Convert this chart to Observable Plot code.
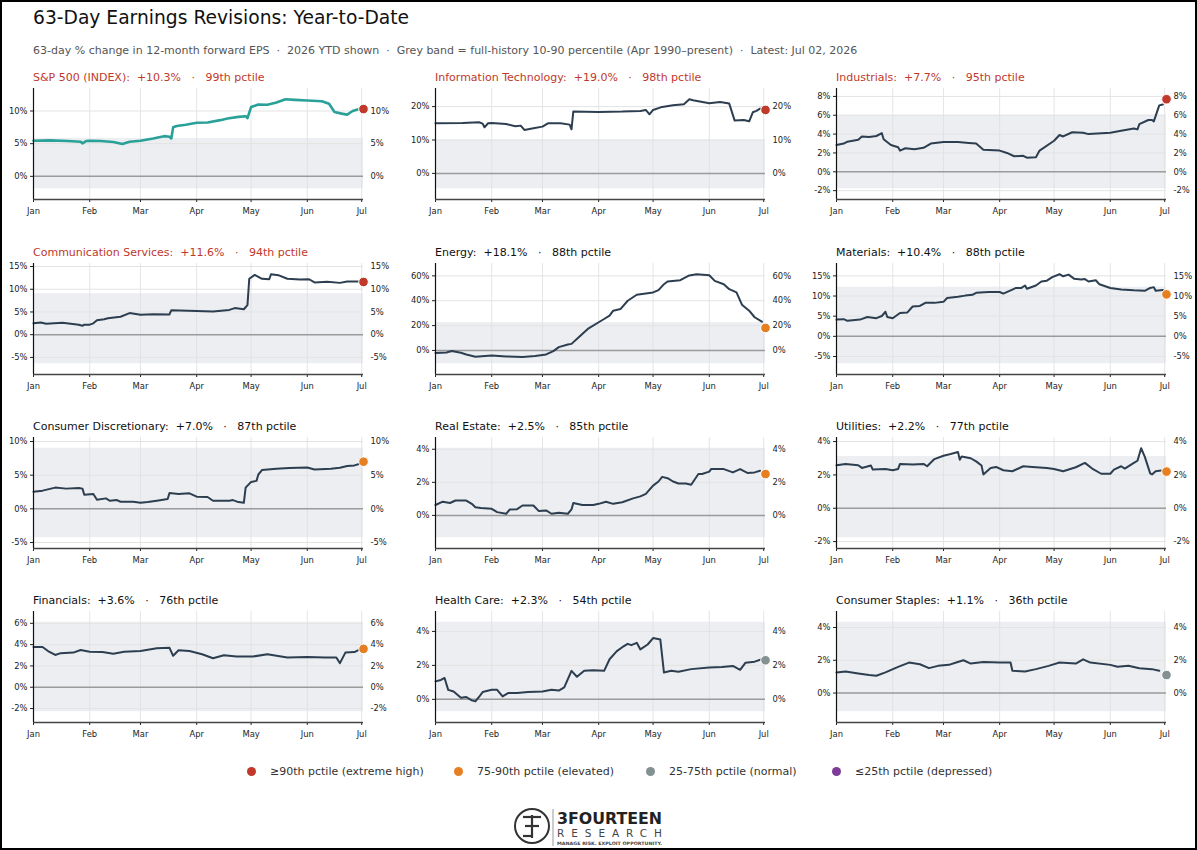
<!DOCTYPE html>
<html><head><meta charset="utf-8">
<script src="https://cdn.jsdelivr.net/npm/d3@7"></script>
<script src="https://cdn.jsdelivr.net/npm/@observablehq/plot@0.6"></script>
<style>
body{margin:0;background:#fff;font-family:"DejaVu Sans",sans-serif;}
#page{position:relative;width:1197px;height:850px;overflow:hidden;background:#fff;}
.abs{position:absolute;white-space:pre;line-height:1;}
#frame{position:absolute;left:0;top:0;width:1197px;height:850px;box-sizing:border-box;border:2px solid #000;pointer-events:none;}
</style></head><body><div id="page"></div><script>
// ---------- data ----------
const spx = [["01-01",5.45],["01-10",5.5],["01-20",5.4],["01-27",5.3],["01-28",5.05],["01-30",5.4],["02-01",5.45],["02-07",5.4],["02-14",5.25],["02-19",4.95],["02-23",5.3],["03-01",5.45],["03-08",5.8],["03-14",6.15],["03-17",6.05],["03-18",5.8],["03-19",7.5],["03-21",7.7],["03-26",7.9],["04-01",8.2],["04-07",8.25],["04-14",8.6],["04-18",8.85],["04-24",9.1],["04-28",9.2],["04-29",8.9],["05-01",10.6],["05-05",11.0],["05-10",10.95],["05-15",11.3],["05-20",11.8],["05-25",11.7],["06-01",11.6],["06-09",11.5],["06-13",11.1],["06-16",9.85],["06-20",9.6],["06-23",9.45],["06-26",10.0],["06-30",10.35]];
const infoTech = [["01-01",15.0],["01-16",15.1],["01-25",15.3],["01-27",14.9],["01-28",13.8],["01-30",15.0],["02-01",15.1],["02-09",14.8],["02-14",14.1],["02-17",14.3],["02-19",13.0],["02-24",13.5],["03-01",14.0],["03-04",15.0],["03-11",15.0],["03-16",14.6],["03-17",13.2],["03-18",18.5],["04-01",18.4],["04-14",18.5],["04-24",18.7],["04-27",19.0],["04-29",17.7],["05-01",19.0],["05-06",19.9],["05-12",20.4],["05-18",20.7],["05-21",22.2],["05-23",21.9],["06-01",21.0],["06-07",21.4],["06-12",20.9],["06-15",15.8],["06-20",16.0],["06-23",15.6],["06-25",18.3],["06-27",18.7],["06-29",19.4]];
const industrials = [["01-01",2.85],["01-05",3.0],["01-07",3.2],["01-13",3.4],["01-15",3.75],["01-19",3.7],["01-23",3.8],["01-26",4.1],["01-27",3.45],["01-31",2.85],["02-04",2.6],["02-05",2.25],["02-08",2.5],["02-13",2.4],["02-18",2.55],["02-22",3.0],["03-01",3.15],["03-09",3.15],["03-15",3.05],["03-19",3.0],["03-23",2.35],["04-01",2.25],["04-05",2.0],["04-09",1.65],["04-14",1.7],["04-16",1.5],["04-21",1.55],["04-23",2.25],["05-01",3.3],["05-04",3.9],["05-06",3.75],["05-11",4.2],["05-17",4.15],["05-20",4.0],["06-01",4.15],["06-07",4.35],["06-14",4.6],["06-16",4.5],["06-17",5.05],["06-22",5.5],["06-24",5.5],["06-25",5.35],["06-28",7.05],["06-30",7.15]];
const commServices = [["01-01",2.5],["01-05",2.7],["01-08",2.4],["01-17",2.65],["01-26",2.2],["01-28",1.95],["01-29",2.2],["02-01",2.2],["02-03",2.5],["02-05",3.2],["02-09",3.4],["02-11",3.6],["02-18",3.95],["02-23",4.75],["03-01",4.4],["03-08",4.5],["03-17",4.45],["03-18",5.4],["04-01",5.2],["04-10",5.1],["04-19",5.45],["04-22",5.85],["04-27",5.6],["04-29",6.5],["04-30",12.3],["05-03",13.15],["05-07",12.3],["05-11",12.2],["05-12",13.3],["05-16",13.1],["05-21",12.3],["05-28",12.15],["06-02",12.2],["06-05",11.5],["06-12",11.65],["06-19",11.4],["06-23",11.7],["06-30",11.7]];
const energy = [["01-01",-2.1],["01-07",-1.6],["01-10",-0.5],["01-15",-1.9],["01-18",-3.2],["01-23",-5.1],["02-01",-4.0],["02-09",-4.8],["02-18",-5.3],["02-25",-4.5],["03-03",-3.2],["03-07",-0.5],["03-10",2.7],["03-15",4.8],["03-17",5.3],["03-21",10.7],["03-24",14.7],["03-26",17.3],["04-01",22.7],["04-04",25.3],["04-07",28.0],["04-09",32.0],["04-13",33.3],["04-17",40.0],["04-22",44.8],["05-01",46.7],["05-04",48.5],["05-07",53.3],["05-09",55.5],["05-16",56.5],["05-21",60.3],["05-25",61.3],["06-01",60.5],["06-04",56.0],["06-09",53.3],["06-12",49.3],["06-16",46.7],["06-19",36.8],["06-23",32.0],["06-26",26.7],["06-30",23.2]];
const materials = [["01-01",4.15],["01-05",4.25],["01-07",3.85],["01-14",4.15],["01-18",4.8],["01-23",4.5],["01-26",5.05],["01-28",6.1],["01-29",4.8],["02-01",4.5],["02-05",5.8],["02-09",5.9],["02-12",7.4],["02-16",7.55],["02-19",8.3],["02-24",8.3],["03-01",8.55],["03-03",9.5],["03-09",9.8],["03-13",10.1],["03-17",10.3],["03-19",10.8],["03-26",11.0],["04-01",11.0],["04-03",10.6],["04-08",11.6],["04-10",12.0],["04-13",12.0],["04-15",12.6],["04-16",11.8],["04-21",12.6],["04-24",13.6],["04-27",13.8],["04-30",14.7],["05-04",15.4],["05-06",14.9],["05-09",15.3],["05-12",14.3],["05-16",14.1],["05-18",14.2],["05-20",13.6],["05-24",13.9],["05-26",12.9],["06-01",12.0],["06-07",11.6],["06-14",11.4],["06-20",11.3],["06-23",12.0],["06-25",12.2],["06-26",11.3],["06-30",11.5]];
const consDisc = [["01-01",2.55],["01-06",2.7],["01-13",3.15],["01-19",3.0],["01-26",3.1],["01-28",3.0],["01-29",2.1],["02-03",2.2],["02-05",1.35],["02-10",1.55],["02-12",1.2],["02-16",1.3],["02-18",1.05],["02-25",1.05],["03-01",0.9],["03-05",1.0],["03-10",1.2],["03-16",1.45],["03-17",2.35],["03-22",2.2],["03-28",2.3],["04-01",1.8],["04-07",1.75],["04-10",1.2],["04-19",1.2],["04-21",1.3],["04-24",1.0],["04-27",0.9],["04-28",3.15],["05-01",4.0],["05-04",4.15],["05-05",5.1],["05-07",5.75],["05-15",5.95],["05-22",6.05],["06-01",6.15],["06-05",5.85],["06-14",5.95],["06-19",6.1],["06-23",6.35],["06-27",6.45],["06-30",6.7]];
const realEstate = [["01-01",0.63],["01-05",0.83],["01-09",0.75],["01-12",0.9],["01-18",0.9],["01-21",0.7],["01-23",0.5],["01-26",0.45],["02-01",0.4],["02-04",0.2],["02-09",0.1],["02-11",0.36],["02-15",0.38],["02-18",0.6],["02-24",0.6],["02-27",0.26],["03-03",0.3],["03-06",0.1],["03-10",0.16],["03-15",0.1],["03-17",0.36],["03-18",0.75],["03-23",0.63],["03-29",0.63],["04-01",0.7],["04-05",0.83],["04-09",0.7],["04-14",0.8],["04-20",1.03],["04-24",1.15],["04-27",1.3],["05-01",1.8],["05-04",2.05],["05-06",2.33],["05-09",2.25],["05-12",2.05],["05-15",1.93],["05-19",1.93],["05-22",1.85],["05-26",2.5],["05-28",2.5],["06-01",2.65],["06-02",2.8],["06-09",2.8],["06-14",2.6],["06-18",2.8],["06-22",2.57],["06-26",2.6],["06-29",2.7]];
const utilities = [["01-01",2.58],["01-06",2.66],["01-13",2.58],["01-15",2.42],["01-20",2.56],["01-21",2.32],["01-28",2.36],["02-01",2.28],["02-04",2.36],["02-05",2.66],["02-12",2.62],["02-18",2.66],["02-20",2.52],["02-24",2.95],["03-01",3.15],["03-05",3.25],["03-09",3.37],["03-10",2.91],["03-11",3.1],["03-16",3.0],["03-19",2.81],["03-22",2.56],["03-23",2.03],["03-27",2.42],["03-30",2.48],["04-03",2.28],["04-08",2.22],["04-14",2.52],["04-19",2.48],["04-27",2.42],["05-01",2.36],["05-06",2.22],["05-13",2.46],["05-18",2.72],["05-22",2.38],["05-27",2.07],["06-01",2.07],["06-03",2.32],["06-07",2.52],["06-09",2.38],["06-14",2.72],["06-16",2.85],["06-18",3.6],["06-20",3.1],["06-23",2.09],["06-24",2.03],["06-26",2.22],["06-29",2.26]];
const financials = [["01-01",3.78],["01-06",3.78],["01-09",3.4],["01-13",3.03],["01-16",3.2],["01-23",3.25],["01-27",3.5],["02-01",3.34],["02-08",3.3],["02-14",3.15],["02-20",3.34],["03-01",3.4],["03-10",3.65],["03-17",3.7],["03-19",2.95],["03-22",3.47],["03-28",3.4],["04-04",3.1],["04-10",2.72],["04-16",3.0],["04-23",2.88],["05-02",2.88],["05-10",3.1],["05-21",2.79],["06-01",2.85],["06-11",2.79],["06-17",2.79],["06-19",2.26],["06-22",3.25],["06-27",3.3],["06-30",3.56]];
const healthCare = [["01-01",1.06],["01-04",1.14],["01-06",1.26],["01-08",0.56],["01-11",0.46],["01-15",0.1],["01-18",0.14],["01-21",-0.06],["01-23",-0.12],["01-25",0.14],["01-27",0.43],["02-01",0.56],["02-04",0.56],["02-07",0.17],["02-10",0.37],["02-15",0.37],["02-21",0.43],["03-01",0.46],["03-06",0.56],["03-10",0.52],["03-13",0.71],["03-17",1.68],["03-20",1.33],["03-24",1.68],["03-29",1.72],["04-04",1.68],["04-07",2.36],["04-11",2.84],["04-14",3.07],["04-17",3.27],["04-19",3.19],["04-22",3.33],["04-24",2.94],["04-28",3.23],["05-01",3.61],["05-05",3.52],["05-07",1.58],["05-11",1.68],["05-15",1.62],["05-22",1.78],["06-01",1.87],["06-08",1.91],["06-14",1.97],["06-18",1.74],["06-21",2.16],["06-26",2.22],["06-30",2.36]];
const consStaples = [["01-01",1.26],["01-06",1.32],["01-13",1.2],["01-19",1.1],["01-23",1.06],["01-28",1.26],["02-04",1.6],["02-10",1.86],["02-16",1.76],["02-21",1.52],["02-26",1.66],["03-04",1.72],["03-08",1.86],["03-12",2.0],["03-16",1.8],["03-23",1.9],["04-01",1.86],["04-07",1.86],["04-08",1.36],["04-15",1.32],["04-21",1.46],["04-28",1.66],["05-04",1.86],["05-13",1.8],["05-17",2.06],["05-21",1.86],["06-01",1.72],["06-05",1.6],["06-11",1.66],["06-17",1.52],["06-24",1.46],["06-28",1.36]];

const sectorNames = ["S&P 500 (INDEX)","Information Technology","Industrials","Communication Services","Energy","Materials","Consumer Discretionary","Real Estate","Utilities","Financials","Health Care","Consumer Staples"];
const sectorSeries = [spx,infoTech,industrials,commServices,energy,materials,consDisc,realEstate,utilities,financials,healthCare,consStaples];
const latestValues = [10.3,19.0,7.7,11.6,18.1,10.4,7.0,2.5,2.2,3.6,2.3,1.1];
const percentiles = [99,98,95,94,88,88,87,85,77,76,54,36];
const bandLow = [-1.9,-4.6,-1.8,-6.4,-10.7,-6.8,-4.3,-1.35,-1.77,-2.3,-0.73,-1.14];
const bandHigh = [5.8,10.0,6.0,9.0,22.4,12.2,9.0,4.06,3.1,6.1,4.54,4.32];
const yTickLabels = [[0,5,10],[0,10,20],[-2,0,2,4,6,8],[-5,0,5,10,15],[0,20,40,60],[-5,0,5,10,15],[-5,0,5,10],[0,2,4],[-2,0,2,4],[-2,0,2,4,6],[0,2,4],[0,2,4]];
const monthLabels = ["01-01","02-01","03-01","04-01","05-01","06-01","07-01"];
const startDay = "01-01", latestDay = "07-02";
const legendLabels = ["\u226590th pctile (extreme high)","75-90th pctile (elevated)","25-75th pctile (normal)","\u226425th pctile (depressed)"];

// ---------- styling ----------
const C = {red:"#c0392b", orange:"#e67e22", grey:"#839192", purple:"#7d3c98", navy:"#2c3e50", teal:"#2aa198", band:"#eceef1"};
const bucketColor = p => p >= 90 ? C.red : p >= 75 ? C.orange : p > 25 ? C.grey : C.purple;
const legendColors = [C.red, C.orange, C.grey, C.purple];
const parse = s => new Date("2026-" + s + "T00:00:00Z");

const page = document.getElementById("page");
function addText(txt, x, y, size, color, extra = "") {
  const d = document.createElement("div");
  d.className = "abs";
  d.textContent = txt;
  d.style.cssText += `left:${x}px;top:${y}px;font-size:${size}px;color:${color};${extra}`;
  page.appendChild(d);
  return d;
}

addText("63-Day Earnings Revisions: Year-to-Date", 33, 8.5, 18.7, "#111");
addText("63-day % change in 12-month forward EPS  \u00b7  2026 YTD shown  \u00b7  Grey band = full-history 10-90 percentile (Apr 1990\u2013present)  \u00b7  Latest: Jul 02, 2026", 33, 44.5, 11, "#555");

const colLeft = [0, 402, 803];
const rowTop = [88, 263, 437, 611];
const plotH = 111, mTop = 8, mBottom = 24;
const xStart = parse(startDay), xEnd = parse(latestDay);
const monthTicks = monthLabels.map(parse);
const pctFmt = d => d + "%";

sectorNames.forEach((name, i) => {
  const col = i % 3, row = Math.floor(i / 3);
  const series = sectorSeries[i].map(([d, v]) => ({date: parse(d), value: v}));
  const latest = latestValues[i], pct = percentiles[i];
  const lo0 = Math.min(d3.min(series, d => d.value), bandLow[i], latest);
  const hi0 = Math.max(d3.max(series, d => d.value), bandHigh[i], latest);
  const pad = 0.12 * (hi0 - lo0);
  const yDom = [lo0 - pad, hi0 + pad];
  const sign = latest >= 0 ? "+" : "";
  const titleColor = pct >= 90 ? C.red : "#111";
  addText(`${name}:  ${sign}${latest.toFixed(1)}%   \u00b7   ${pct}th pctile`, colLeft[col] + 33, rowTop[row] - 16.3, 11, titleColor);

  const yt = yTickLabels[i];
  const chart = Plot.plot({
    width: 401, height: mTop + plotH + mBottom,
    marginLeft: 33, marginRight: 38, marginTop: mTop, marginBottom: mBottom,
    style: {fontFamily: "'DejaVu Sans', sans-serif", fontSize: "8.4px", color: "#222", background: "transparent", overflow: "visible"},
    x: {type: "utc", domain: [xStart, xEnd], label: null},
    y: {domain: yDom, label: null},
    marks: [
      Plot.rect([{lo: bandLow[i], hi: bandHigh[i]}], {x1: () => xStart, x2: () => xEnd, y1: "lo", y2: "hi", fill: C.band}),
      Plot.gridX(monthTicks, {stroke: "#dedede", strokeOpacity: 1, strokeWidth: 0.8}),
      Plot.gridY(yt, {stroke: "#e3e3e3", strokeOpacity: 1, strokeWidth: 1}),
      Plot.ruleY([0], {stroke: "#9b9b9b", strokeWidth: 1.5}),
      Plot.line(series, {x: "date", y: "value", stroke: i === 0 ? C.teal : C.navy, strokeWidth: i === 0 ? 2.6 : 2}),
      Plot.dot([{date: xEnd, value: latest}], {x: "date", y: "value", r: 4.8, fill: bucketColor(pct), stroke: "#fff", strokeWidth: 1}),
      Plot.axisY(yt, {anchor: "left", tickSize: 3, tickPadding: 3, tickFormat: pctFmt, label: null}),
      Plot.axisY(yt, {anchor: "right", tickSize: 0, tickPadding: 7, tickFormat: pctFmt, label: null}),
      Plot.axisX(monthTicks, {anchor: "bottom", tickSize: 3, tickPadding: 6, tickFormat: d3.utcFormat("%b"), label: null}),
      Plot.ruleX([xStart], {stroke: "#111", strokeWidth: 1.2}),
      Plot.ruleY([yDom[0]], {stroke: "#444", strokeWidth: 1.3})
    ]
  });
  chart.style.position = "absolute";
  chart.style.left = colLeft[col] + "px";
  chart.style.top = (rowTop[row] - mTop) + "px";
  page.appendChild(chart);
});

// legend
const legendX = [251, 458, 650, 836];
legendLabels.forEach((lab, k) => {
  const dot = document.createElement("div");
  dot.style.cssText = `position:absolute;left:${legendX[k]-4.5}px;top:${771-4.5}px;width:9px;height:9px;border-radius:50%;background:${legendColors[k]};`;
  page.appendChild(dot);
  addText(lab, legendX[k] + 19, 765.5, 11, "#333");
});

// logo
const ns = "http://www.w3.org/2000/svg";
const logo = document.createElementNS(ns, "svg");
logo.setAttribute("width", 180); logo.setAttribute("height", 46);
logo.style.cssText = "position:absolute;left:510px;top:803px;";
logo.innerHTML = `
<circle cx="22" cy="23" r="17" fill="none" stroke="#333" stroke-width="2"/>
<g stroke="#333" stroke-width="2.2" fill="none">
<line x1="22" y1="12" x2="22" y2="35"/>
<line x1="13" y1="14" x2="22" y2="14"/><line x1="15" y1="23" x2="22" y2="23"/><line x1="13" y1="33" x2="22" y2="33"/>
<line x1="22" y1="14" x2="31" y2="14"/><line x1="22" y1="23" x2="29" y2="23"/>
</g>
<line x1="43" y1="6" x2="43" y2="43" stroke="#999" stroke-width="1"/>
<text x="47" y="21" font-family="DejaVu Sans" font-weight="bold" font-size="15" fill="#222" textLength="105" lengthAdjust="spacingAndGlyphs">3FOURTEEN</text>
<text x="47" y="34" font-family="DejaVu Sans" font-size="10.5" fill="#444" textLength="105" lengthAdjust="spacing">RESEARCH</text>
<text x="47" y="42" font-family="DejaVu Sans" font-weight="bold" font-size="4.6" fill="#444" textLength="105" lengthAdjust="spacingAndGlyphs">MANAGE RISK. EXPLOIT OPPORTUNITY.</text>`;
page.appendChild(logo);

const frame = document.createElement("div");
frame.id = "frame";
page.appendChild(frame);
</script></body></html>
